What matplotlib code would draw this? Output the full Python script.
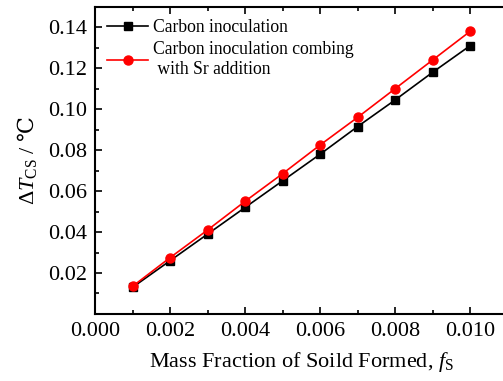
import matplotlib
matplotlib.use("Agg")
import matplotlib.pyplot as plt
from matplotlib.ticker import MultipleLocator

plt.rcParams['font.family'] = ['Liberation Serif', 'DejaVu Serif']
plt.rcParams['mathtext.fontset'] = 'custom'
plt.rcParams['mathtext.rm'] = 'Liberation Serif'
plt.rcParams['mathtext.it'] = 'Liberation Serif:italic'
plt.rcParams['mathtext.sf'] = 'DejaVu Serif'

fs = [0.001, 0.002, 0.003, 0.004, 0.005, 0.006, 0.007, 0.008, 0.009, 0.010]
carbon = [0.013, 0.026, 0.039, 0.052, 0.065, 0.078, 0.0915, 0.1045, 0.118, 0.131]
carbon_sr = [0.0135, 0.0275, 0.041, 0.055, 0.0685, 0.0825, 0.096, 0.110, 0.124, 0.138]

fig = plt.figure(figsize=(5.03, 3.81), dpi=100)
ax = fig.add_axes([0.189, 0.176, 0.82, 0.806])

ax.plot(fs, carbon, 'k-', marker='s', markersize=5.5, lw=1.2,
        label='Carbon inoculation')
ax.plot(fs, carbon_sr, color='red', marker='o', markersize=6.5, lw=1.2,
        label='Carbon inoculation combing\n with Sr addition')

ax.set_xlim(0, 0.011)
ax.set_ylim(0, 0.15)
ax.xaxis.set_minor_locator(MultipleLocator(0.001))
ax.yaxis.set_minor_locator(MultipleLocator(0.01))
ax.set_xticks([0, 0.002, 0.004, 0.006, 0.008, 0.010])
ax.set_xticklabels(['0.000', '0.002', '0.004', '0.006', '0.008', '0.010'])
ax.set_yticks([0.02, 0.04, 0.06, 0.08, 0.10, 0.12, 0.14])
ax.set_yticklabels(['0.02', '0.04', '0.06', '0.08', '0.10', '0.12', '0.14'])

ax.tick_params(which='both', direction='in', top=True, right=False,
               labelsize=16, width=1.2)
ax.tick_params(which='major', length=5)
ax.tick_params(which='minor', length=3)
ax.tick_params(axis='x', pad=6)
ax.tick_params(axis='y', pad=6)
for s in ax.spines.values():
    s.set_linewidth(1.5)

ax.set_xlabel('Mass Fraction of Soild Formed, $f_\\mathrm{S}$', fontsize=16,
              labelpad=6)
ax.set_ylabel('$\\Delta T_\\mathrm{CS}$ / $\\mathsf{\u2103}$', fontsize=16,
              labelpad=6)

ax.legend(loc='upper left', frameon=False, fontsize=12.7, handlelength=2.3,
          handletextpad=0.3, borderaxespad=0.3, labelspacing=0.3)

fig.savefig('out.png', dpi=100)
